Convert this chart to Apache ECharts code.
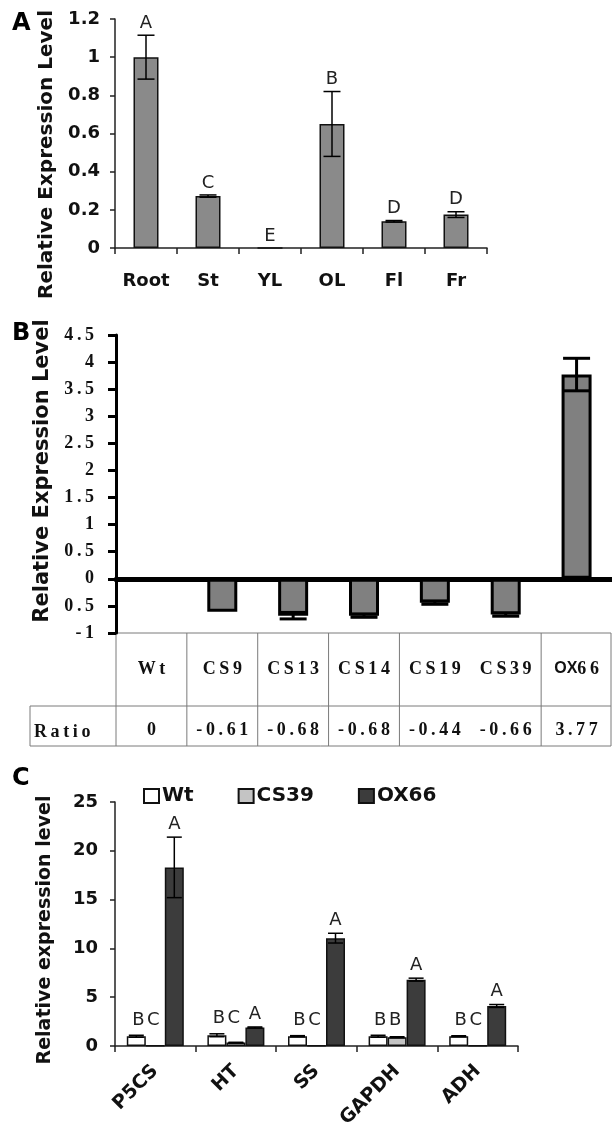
<!DOCTYPE html>
<html><head><meta charset="utf-8">
<script src="https://cdn.jsdelivr.net/npm/echarts@6/dist/echarts.min.js"></script>
<style>html,body{margin:0;padding:0;background:#fff}#c{width:612px;height:1133px}</style>
</head><body><div id="c"></div>
<script>
// ---- Panel A data ----
const tissues = ['Root','St','YL','OL','Fl','Fr'];
const tissueValues = [1.0, 0.272, 0, 0.65, 0.14, 0.175];
const tissueErrors = [0.115, 0.006, 0, 0.17, 0.004, 0.015];
const tissueLetters = ['A','C','E','B','D','D'];

// ---- Panel B data ----
const lines = ['Wt','CS9','CS13','CS14','CS19','CS39','OX66'];
const lineValues = [0, -0.61, -0.68, -0.68, -0.44, -0.66, 3.77];
const lineErrors = [0, 0, 0.06, 0.03, 0.03, 0.03, 0.3];
const bTickLabels = ['-1','0.5','0','0.5','1','1.5','2','2.5','3','3.5','4','4.5'];
const ratioRowLabel = 'Ratio';

// ---- Panel C data ----
const genes = ['P5CS','HT','SS','GAPDH','ADH'];
const wtValues = [1.0, 1.1, 1.0, 1.0, 1.0];
const wtErrors = [0.1, 0.15, 0.06, 0.1, 0.05];
const cs39Values = [0.03, 0.35, 0.03, 0.9, 0.03];
const cs39Errors = [0, 0.03, 0, 0.05, 0];
const ox66Values = [18.3, 1.9, 11.05, 6.8, 4.1];
const ox66Errors = [3.1, 0.05, 0.5, 0.15, 0.15];
const wtLetters = ['B','B','B','B','B'];
const cs39Letters = ['C','C','C','B','C'];
const ox66Letters = ['A','A','A','A','A'];

const SANS = 'DejaVu Sans';
const SERIF = 'Liberation Serif';
const spaced = s => String(s).split('').join('\u2009');

function errSeries(o) {
  return {
    type: 'custom', xAxisIndex: o.xi, yAxisIndex: o.yi, clip: false, z: 10, silent: true,
    data: o.values.map((v, i) => [i, v, o.errors[i], o.anchors[i]]),
    renderItem(params, api) {
      const i = api.value(0), v = api.value(1), e = api.value(2), an = api.value(3);
      const x = api.coord([i, v])[0] + (o.offset || 0);
      const children = [];
      if (e > 0) {
        const yHi = api.coord([i, v + e])[1], yLo = api.coord([i, v - e])[1];
        const st = {stroke: '#000', lineWidth: o.lw};
        children.push({type: 'line', shape: {x1: x, y1: yHi, x2: x, y2: yLo}, style: st});
        children.push({type: 'line', shape: {x1: x - o.cap / 2, y1: yHi, x2: x + o.cap / 2, y2: yHi}, style: st});
        children.push({type: 'line', shape: {x1: x - o.cap / 2, y1: yLo, x2: x + o.cap / 2, y2: yLo}, style: st});
      }
      if (o.letters) {
        const ya = api.coord([i, an])[1];
        children.push({type: 'text', style: {text: o.letters[i], x: x + (o.letterShift || 0), y: ya - o.gap,
          align: 'center', verticalAlign: 'bottom', fontFamily: SANS, fontSize: 18, fill: '#222'}});
      }
      return {type: 'group', children};
    }
  };
}

const tissueAnchors = tissueValues.map((v, i) => v + tissueErrors[i]);
const lowAnchors = genes.map((_, i) => Math.max(wtValues[i] + wtErrors[i], cs39Values[i] + cs39Errors[i]));
const oxAnchors = ox66Values.map((v, i) => v + ox66Errors[i]);

const axisDark = {lineStyle: {color: '#222', width: 1.5}};
const sansLabel = {fontFamily: SANS, fontWeight: 'bold', fontSize: 18, color: '#111'};

const chart = echarts.init(document.getElementById('c'), null, {renderer: 'canvas'});
const option = {
  animation: false,
  backgroundColor: '#fff',
  grid: [
    {left: 115, top: 19, width: 372, height: 229},
    {left: 116, top: 335, width: 496, height: 298},
    {left: 115, top: 802, width: 403, height: 244}
  ],
  legend: {
    left: 138, top: 781, itemWidth: 15, itemHeight: 14, itemGap: 44,
    icon: 'rect', data: ['Wt','CS39','OX66'],
    textStyle: {fontFamily: SANS, fontWeight: 'bold', fontSize: 20, color: '#111', padding: [0,0,0,-2]}
  },
  xAxis: [
    {type: 'category', gridIndex: 0, data: tissues,
     axisLine: axisDark, axisTick: {show: true, length: 6, lineStyle: {color: '#222', width: 1.5}},
     axisLabel: Object.assign({margin: 24, interval: 0}, sansLabel)},
    {type: 'category', gridIndex: 1, data: lines,
     axisLine: {onZero: true, lineStyle: {color: '#000', width: 5}},
     axisTick: {show: false}, axisLabel: {show: false}},
    {type: 'category', gridIndex: 1, data: lines, position: 'bottom',
     axisLine: {show: false, onZero: false}, axisTick: {show: false},
     axisLabel: {margin: 27, interval: 0, fontFamily: SERIF, fontWeight: 'bold', fontSize: 18, color: '#111',
       formatter: v => v === 'OX66' ? '{s|OX}{r|' + spaced('66') + '}' : spaced(v),
       rich: {s: {fontFamily: 'Liberation Sans', fontWeight: 'bold', fontSize: 16, color: '#111'},
              r: {fontFamily: SERIF, fontWeight: 'bold', fontSize: 18, color: '#111'}}}},
    {type: 'category', gridIndex: 1, data: lines, position: 'bottom',
     axisLine: {show: false, onZero: false}, axisTick: {show: false},
     axisLabel: {margin: 88, interval: 0, fontFamily: SERIF, fontWeight: 'bold', fontSize: 18, color: '#111',
       formatter: (v, idx) => spaced(lineValues[idx] === 0 ? '0' : lineValues[idx].toFixed(2))}},
    {type: 'category', gridIndex: 2, data: genes,
     axisLine: axisDark, axisTick: {show: true, length: 6, lineStyle: {color: '#222', width: 1.5}},
     axisLabel: Object.assign({margin: 22, interval: 0, rotate: 45}, sansLabel, {fontSize: 19})}
  ],
  yAxis: [
    {type: 'value', gridIndex: 0, min: 0, max: 1.2, interval: 0.2,
     axisLine: Object.assign({show: true}, axisDark), axisTick: {show: true, length: 5, lineStyle: {color: '#222', width: 1.5}},
     splitLine: {show: false}, axisLabel: Object.assign({margin: 15}, sansLabel),
     name: 'Relative Expression Level', nameLocation: 'middle', nameGap: 57,
     nameTextStyle: {fontFamily: SANS, fontWeight: 'bold', fontSize: 20, color: '#111', padding: [0, 42, 0, 0]}},
    {type: 'value', gridIndex: 1, min: -1, max: 4.5, interval: 0.5,
     axisLine: {show: true, lineStyle: {color: '#000', width: 3}},
     axisTick: {show: true, length: 8, lineStyle: {color: '#000', width: 3}},
     splitLine: {show: false},
     axisLabel: {margin: 22, fontFamily: SERIF, fontWeight: 'bold', fontSize: 18, color: '#111',
       formatter: (v, idx) => spaced(bTickLabels[idx])},
     name: 'Relative Expression Level', nameLocation: 'middle', nameGap: 60,
     nameTextStyle: {fontFamily: SANS, fontWeight: 'bold', fontSize: 21, color: '#111', padding: [0, 0, 0, 26]}},
    {type: 'value', gridIndex: 2, min: 0, max: 25, interval: 5,
     axisLine: Object.assign({show: true}, axisDark), axisTick: {show: true, length: 5, lineStyle: {color: '#222', width: 1.5}},
     splitLine: {show: false}, axisLabel: Object.assign({margin: 17}, sansLabel),
     name: 'Relative expression level', nameLocation: 'middle', nameGap: 60,
     nameTextStyle: {fontFamily: SANS, fontWeight: 'bold', fontSize: 19, color: '#111', padding: [0, 12, 0, 0]}}
  ],
  series: [
    {type: 'bar', xAxisIndex: 0, yAxisIndex: 0, data: tissueValues, barWidth: 25,
     itemStyle: {color: '#8a8a8a', borderColor: '#111', borderWidth: 1.5}},
    errSeries({xi: 0, yi: 0, values: tissueValues, errors: tissueErrors, anchors: tissueAnchors,
      letters: tissueLetters, cap: 17, lw: 1.5, gap: 3}),

    {type: 'bar', xAxisIndex: 1, yAxisIndex: 1, data: lineValues, barWidth: 30,
     itemStyle: {color: '#808080', borderColor: '#000', borderWidth: 3}},
    errSeries({xi: 1, yi: 1, values: lineValues, errors: lineErrors, anchors: lineValues,
      letters: null, cap: 27, lw: 3, gap: 0}),

    {name: 'Wt', type: 'bar', xAxisIndex: 4, yAxisIndex: 2, data: wtValues, barWidth: 19, barGap: '0%',
     itemStyle: {color: '#ffffff', borderColor: '#111', borderWidth: 1.5}},
    {name: 'CS39', type: 'bar', xAxisIndex: 4, yAxisIndex: 2, data: cs39Values, barWidth: 19, barGap: '0%',
     itemStyle: {color: '#c4c4c4', borderColor: '#111', borderWidth: 1.5}},
    {name: 'OX66', type: 'bar', xAxisIndex: 4, yAxisIndex: 2, data: ox66Values, barWidth: 19, barGap: '0%',
     itemStyle: {color: '#3c3c3c', borderColor: '#111', borderWidth: 1.5}},
    errSeries({xi: 4, yi: 2, values: wtValues, errors: wtErrors, anchors: lowAnchors,
      letters: wtLetters, offset: -19, letterShift: 2, cap: 15, lw: 1.5, gap: 6}),
    errSeries({xi: 4, yi: 2, values: cs39Values, errors: cs39Errors, anchors: lowAnchors,
      letters: cs39Letters, offset: 0, letterShift: -2, cap: 15, lw: 1.5, gap: 6}),
    errSeries({xi: 4, yi: 2, values: ox66Values, errors: ox66Errors, anchors: oxAnchors,
      letters: ox66Letters, offset: 19, cap: 15, lw: 1.5, gap: 4})
  ]
};
chart.setOption(option);

// ---- Table under panel B (grid lines placed from the axis scale) ----
const cx = lines.map((_, i) => chart.convertToPixel({xAxisIndex: 1}, i));
const half = (cx[1] - cx[0]) / 2;
const bounds = [];
for (let k = 0; k <= lines.length; k++) bounds.push(cx[0] - half + k * 2 * half);
const yTop = chart.convertToPixel({yAxisIndex: 1}, -1);
const yMid = yTop + 73, yBot = yTop + 113;
const leftX = 30;
const gst = {stroke: '#7a7a7a', lineWidth: 1};
const g = [];
const rightX = bounds[bounds.length - 1] - 1;
g.push({type: 'line', shape: {x1: bounds[0], y1: yTop, x2: rightX, y2: yTop}, style: gst});
g.push({type: 'line', shape: {x1: leftX, y1: yMid, x2: rightX, y2: yMid}, style: gst});
g.push({type: 'line', shape: {x1: leftX, y1: yBot, x2: rightX, y2: yBot}, style: gst});
g.push({type: 'line', shape: {x1: leftX, y1: yMid, x2: leftX, y2: yBot}, style: gst});
bounds.forEach((b, k) => {
  if (k === 5) return;
  const xx = k === bounds.length - 1 ? rightX : b;
  g.push({type: 'line', shape: {x1: xx, y1: yTop, x2: xx, y2: yBot}, style: gst});
});
g.push({type: 'text', style: {text: spaced(ratioRowLabel), x: 34, y: yTop + 99, verticalAlign: 'middle',
  fontFamily: SERIF, fontWeight: 'bold', fontSize: 18, fill: '#111'}});
// panel letters
[['A', 12, 12], ['B', 12, 322], ['C', 12, 767]].forEach(p => {
  g.push({type: 'text', style: {text: p[0], x: p[1], y: p[2], fontFamily: SANS, fontWeight: 'bold', fontSize: 24, fill: '#000'}});
});
chart.setOption({graphic: {elements: g}});
</script>
</body></html>
